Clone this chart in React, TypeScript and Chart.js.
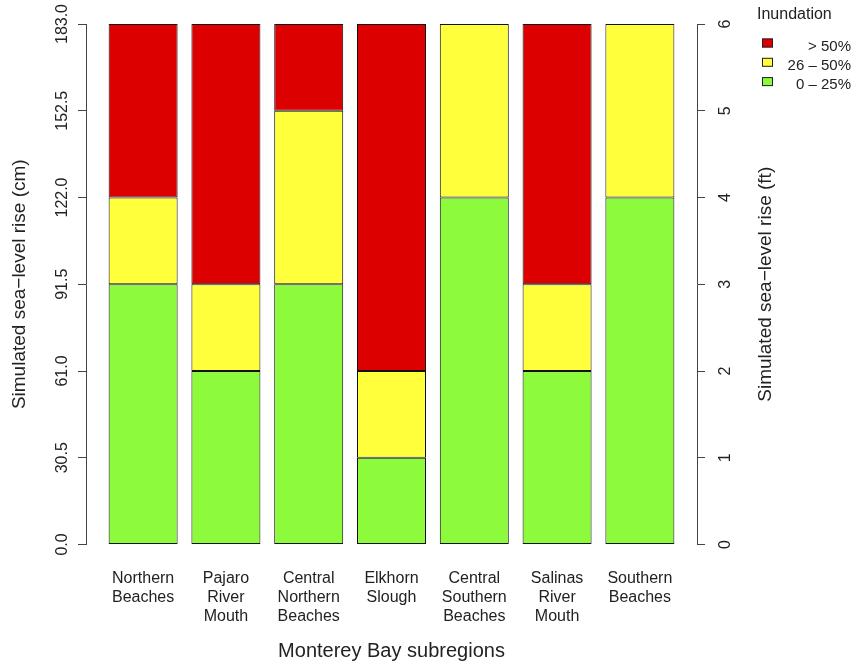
import React, { useEffect, useRef } from 'react';
import { Chart, registerables } from 'chart.js';

Chart.register(...registerables);

// ---- data ----
const categories: string[][] = [
  ['Northern', 'Beaches'],
  ['Pajaro', 'River', 'Mouth'],
  ['Central', 'Northern', 'Beaches'],
  ['Elkhorn', 'Slough'],
  ['Central', 'Southern', 'Beaches'],
  ['Salinas', 'River', 'Mouth'],
  ['Southern', 'Beaches'],
];
// segment heights in feet of simulated sea-level rise
const lowShare = [3, 2, 3, 1, 4, 2, 4]; // 0 – 25%
const midShare = [1, 1, 2, 1, 2, 1, 2]; // 26 – 50%
const highShare = [2, 3, 1, 4, 0, 3, 0]; // > 50%
const seriesLabels = ['0 – 25%', '26 – 50%', '> 50%'];
const cmTicks = [0, 30.5, 61, 91.5, 122, 152.5, 183];
const ftTicks = [0, 1, 2, 3, 4, 5, 6];

const FONT = '"Liberation Sans", Arial, Helvetica, sans-serif';
const TEXT = '#222222';
const AXIS = '#444444';
const COLORS = ['#8DFA3C', '#FFFF3C', '#DD0000'];

const extrasPlugin = {
  id: 'extras',
  afterDraw(chart: any) {
    const ctx = chart.ctx as CanvasRenderingContext2D;
    const ca = chart.chartArea;
    ctx.save();
    // right axis title (reads bottom-to-top)
    ctx.translate(766, (ca.top + ca.bottom) / 2);
    ctx.rotate(-Math.PI / 2);
    ctx.font = `19px ${FONT}`;
    ctx.fillStyle = TEXT;
    ctx.textAlign = 'center';
    ctx.textBaseline = 'middle';
    ctx.fillText('Simulated sea\u2212level rise (ft)', 0, 0);
    ctx.restore();

    // legend
    ctx.save();
    ctx.fillStyle = TEXT;
    ctx.font = `16px ${FONT}`;
    ctx.textAlign = 'left';
    ctx.textBaseline = 'middle';
    ctx.fillText('Inundation', 757, 15);
    const ds = chart.data.datasets.slice().reverse();
    ds.forEach((d: any, i: number) => {
      const cy = 43 + i * 19.3;
      ctx.fillStyle = d.backgroundColor;
      ctx.fillRect(762, cy - 4.5, 11, 9);
      ctx.strokeStyle = '#222';
      ctx.lineWidth = 1;
      ctx.strokeRect(762.5, cy - 4, 10, 8);
      ctx.fillStyle = TEXT;
      ctx.font = `15px ${FONT}`;
      ctx.textAlign = 'right';
      ctx.fillText(d.label, 851, cy + 3.5);
    });
    ctx.restore();
  },
};

export default function App() {
  const ref = useRef<HTMLCanvasElement>(null);
  useEffect(() => {
    const series = [lowShare, midShare, highShare];
    const chart = new Chart(ref.current as HTMLCanvasElement, {
      type: 'bar',
      data: {
        datasets: series.map((vals, k) => ({
          label: seriesLabels[k],
          data: vals.map((v, i) => ({ x: i, y: v })),
          backgroundColor: COLORS[k],
          borderColor: '#111111',
          borderWidth: 1,
          borderSkipped: false,
          stack: 's',
          xAxisID: 'x',
          yAxisID: 'y1',
          categoryPercentage: 1,
          barPercentage: 1 / 1.2,
        })),
      } as any,
      options: {
        responsive: false,
        animation: false,
        devicePixelRatio: 1,
        layout: { padding: { top: 24, left: 0, right: 0, bottom: 0 } },
        plugins: { legend: { display: false }, tooltip: { enabled: false } },
        scales: {
          x: {
            type: 'linear',
            position: 'bottom',
            min: -0.69,
            max: 6.69,
            offset: false,
            afterBuildTicks: (s: any) => {
              s.ticks = categories.map((_, i) => ({ value: i }));
            },
            afterFit: (s: any) => {
              s.height = 123.5;
              s.paddingLeft = 0;
              s.paddingRight = 0;
            },
            grid: { display: false, drawTicks: false },
            border: { display: false },
            ticks: {
              padding: 24,
              color: TEXT,
              font: { family: FONT, size: 16 },
              autoSkip: false,
              minRotation: 0,
              maxRotation: 0,
              callback: (v: any) => categories[v] ?? '',
            },
            title: {
              display: true,
              text: 'Monterey Bay subregions',
              color: TEXT,
              font: { family: FONT, size: 20 },
              padding: { top: 0, bottom: 5 },
            },
          },
          y: {
            position: 'left',
            min: 0,
            max: 183,
            afterBuildTicks: (s: any) => {
              s.ticks = cmTicks.map((v) => ({ value: v }));
            },
            afterFit: (s: any) => {
              s.width = 86;
              s.paddingTop = 0;
              s.paddingBottom = 0;
            },
            grid: { drawOnChartArea: false, drawTicks: true, tickLength: 8, color: AXIS },
            border: { display: true, color: AXIS },
            ticks: {
              padding: -4.5,
              minRotation: 90,
              maxRotation: 90,
              crossAlign: 'center',
              color: TEXT,
              font: { family: FONT, size: 16 },
              callback: (v: any) => Number(v).toFixed(1),
            },
            title: {
              display: true,
              text: 'Simulated sea\u2212level rise (cm)',
              color: TEXT,
              font: { family: FONT, size: 19 },
              padding: { top: 8, bottom: 0 },
            },
          },
          y1: {
            position: 'right',
            stacked: true,
            min: 0,
            max: 6,
            afterBuildTicks: (s: any) => {
              s.ticks = ftTicks.map((v) => ({ value: v }));
            },
            afterFit: (s: any) => {
              s.width = 160;
              s.paddingTop = 0;
              s.paddingBottom = 0;
            },
            grid: { drawOnChartArea: false, drawTicks: true, tickLength: 8, color: AXIS },
            border: { display: true, color: AXIS },
            ticks: {
              padding: 16,
              minRotation: 90,
              maxRotation: 90,
              crossAlign: 'center',
              color: TEXT,
              font: { family: FONT, size: 16 },
              callback: (v: any) => String(v),
            },
          },
        },
      } as any,
      plugins: [extrasPlugin],
    });
    return () => chart.destroy();
  }, []);
  return (
    <div style={{ position: 'fixed', left: 0, top: 0, width: 857, height: 668, background: '#fff' }}>
      <canvas ref={ref} width={857} height={668} style={{ display: 'block' }} />
    </div>
  );
}
